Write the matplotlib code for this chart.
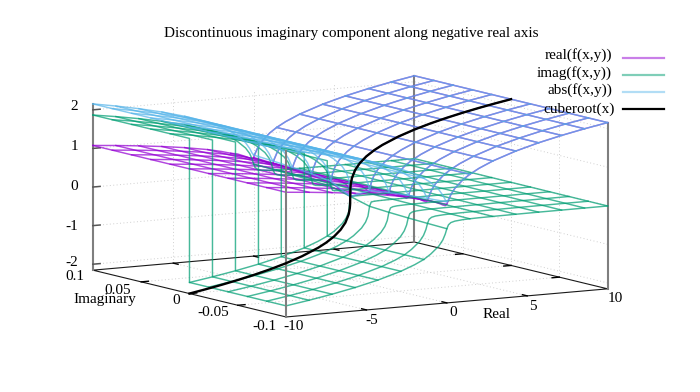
import matplotlib
matplotlib.use('Agg')
import matplotlib.pyplot as plt
from matplotlib.lines import Line2D
from mpl_toolkits.mplot3d import proj3d
import numpy as np

plt.rcParams['font.family'] = ['Liberation Serif', 'DejaVu Serif']

# values
y_rows = [0, 0.02, 0.04, 0.06, 0.08, 0.1]
x_far_neg = [-10, -8.57, -7.14, -5.71, -4.29, -2.86, -2, -1.43]
x_near = [-1, -0.5, -0.25, -0.1, 0, 0.1, 0.25, 0.5, 1]
x_far_pos = [1.43, 2, 2.86, 4.29, 5.71, 7.14, 8.57, 10]
x_iso = [-10, -8.57, -7.14, -5.71, -4.29, -2.86, -1.43, 0, 1.43, 2.86, 4.29, 5.71, 7.14, 8.57, 10]

real_far_neg = [1.077, 1.024, 0.963, 0.894, 0.813, 0.710, 0.630, 0.563]
imag_far_neg = [1.866, 1.773, 1.668, 1.548, 1.407, 1.230, 1.091, 0.976]
abs_far_neg = [2.154, 2.047, 1.926, 1.788, 1.625, 1.420, 1.260, 1.127]
real_far_pos = [1.127, 1.260, 1.420, 1.625, 1.788, 1.926, 2.047, 2.154]
abs_far_pos = [1.127, 1.260, 1.420, 1.625, 1.788, 1.926, 2.047, 2.154]

real_near = [[0.500, 0.397, 0.315, 0.232, 0.000, 0.464, 0.630, 0.794, 1.000],
             [0.506, 0.406, 0.330, 0.260, 0.235, 0.466, 0.630, 0.794, 1.000],
             [0.512, 0.415, 0.345, 0.288, 0.296, 0.472, 0.632, 0.794, 1.000],
             [0.517, 0.425, 0.360, 0.316, 0.339, 0.481, 0.634, 0.795, 1.000],
             [0.524, 0.434, 0.375, 0.343, 0.373, 0.491, 0.637, 0.796, 1.000],
             [0.529, 0.444, 0.391, 0.368, 0.402, 0.503, 0.641, 0.797, 1.000]]
imag_near = [[0.866, 0.688, 0.546, 0.402, 0.000, 0.000, 0.000, 0.000, 0.000],
             [0.863, 0.682, 0.538, 0.388, 0.136, 0.031, 0.017, 0.011, 0.007],
             [0.860, 0.677, 0.530, 0.379, 0.171, 0.060, 0.034, 0.021, 0.013],
             [0.856, 0.673, 0.524, 0.373, 0.196, 0.088, 0.050, 0.032, 0.020],
             [0.853, 0.668, 0.518, 0.369, 0.215, 0.112, 0.066, 0.042, 0.027],
             [0.851, 0.664, 0.514, 0.368, 0.232, 0.135, 0.082, 0.053, 0.033]]
abs_near = [[1.000, 0.794, 0.630, 0.464, 0.000, 0.464, 0.630, 0.794, 1.000],
            [1.000, 0.794, 0.631, 0.467, 0.271, 0.467, 0.631, 0.794, 1.000],
            [1.000, 0.795, 0.633, 0.476, 0.342, 0.476, 0.633, 0.795, 1.000],
            [1.001, 0.796, 0.636, 0.489, 0.391, 0.489, 0.636, 0.796, 1.001],
            [1.002, 0.797, 0.640, 0.504, 0.431, 0.504, 0.640, 0.797, 1.002],
            [1.002, 0.799, 0.646, 0.521, 0.464, 0.521, 0.646, 0.799, 1.002]]
imag_far_pos = [[0.000, 0.000, 0.000, 0.000, 0.000, 0.000, 0.000, 0.000],
                [0.005, 0.004, 0.003, 0.003, 0.002, 0.002, 0.002, 0.001],
                [0.010, 0.008, 0.007, 0.005, 0.004, 0.003, 0.003, 0.003],
                [0.015, 0.012, 0.010, 0.008, 0.006, 0.005, 0.005, 0.004],
                [0.021, 0.016, 0.013, 0.010, 0.008, 0.007, 0.006, 0.006],
                [0.026, 0.020, 0.017, 0.013, 0.010, 0.009, 0.008, 0.007]]

cube_x = [-10, -9, -8, -7, -6, -5, -4, -3, -2, -1.5, -1, -0.6, -0.3, -0.1, -0.03, -0.01, 0,
          0.01, 0.03, 0.1, 0.3, 0.6, 1, 1.5, 2, 3, 4, 5, 6, 7, 8, 9, 10]
cube_z = [-2.154, -2.080, -2.000, -1.913, -1.817, -1.710, -1.587, -1.442, -1.260, -1.145, -1.000,
          -0.843, -0.669, -0.464, -0.311, -0.215, 0,
          0.215, 0.311, 0.464, 0.669, 0.843, 1.000, 1.145, 1.260, 1.442, 1.587, 1.710, 1.817,
          1.913, 2.000, 2.080, 2.154]

x_ticks = [-5, 0, 5]
y_ticks = [-0.05, 0, 0.05]
z_ticks = [-2, -1, 0, 1, 2]
xmin, xmax = -10, 10
ymin, ymax = -0.1, 0.1
zmin, zmax = -2.154, 2.154


def px(x, y):
    return x / 700, 1 - y / 392


def table(far_neg, near, far_pos):
    rows = []
    for i in range(len(y_rows)):
        pos = far_pos[i] if np.ndim(far_pos) == 2 else far_pos
        rows.append(list(far_neg) + list(near[i]) + list(pos))
    return np.array(rows)


xs = np.array(x_far_neg + x_near + x_far_pos)
ys = np.array([-v for v in y_rows[::-1]] + y_rows)
t = table(real_far_neg, real_near, real_far_pos)
real_z = np.vstack((t[::-1], t))
t = table(imag_far_neg, imag_near, imag_far_pos)
imag_z = np.vstack((-t[::-1], t))
t = table(abs_far_neg, abs_near, abs_far_pos)
abs_z = np.vstack((t[::-1], t))

fig = plt.figure(figsize=(7, 3.92), dpi=100)
ax = fig.add_axes([0, 0, 1, 1], projection='3d', proj_type='ortho', computed_zorder=False)
ax.set_xlim(xmin, xmax)
ax.set_ylim(ymin, ymax)
ax.set_zlim(zmin, zmax)
ax.set_box_aspect((1, 1, 0.448))
ax.view_init(elev=8.37, azim=239)
ax.set_axis_off()

# put the box on the same pixels as the reference
cx = [xmin, xmin, xmax, xmax]
cy = [ymax, ymin, ymin, ymax]
cz = [zmin, zmin, zmin, zmin]
tx = np.array([93, 287, 607, 414])
ty = 392 - np.array([270, 317, 289, 242])
u, v, _ = proj3d.proj_transform(np.array(cx, float), np.array(cy, float), np.array(cz, float), ax.get_proj())
scale = (np.polyfit(u, tx, 1)[0] + np.polyfit(v, ty, 1)[0]) / 2
bx = np.mean(tx - scale * u)
by = np.mean(ty - scale * v)
x0, x1 = ax.viewLim.intervalx
y0, y1 = ax.viewLim.intervaly
ax.set_position([(bx + scale * x0) / 700, (by + scale * y0) / 392,
                 scale * (x1 - x0) / 700, scale * (y1 - y0) / 392])

grid_c = '#cfcfcf'
dot = (0, (1, 2.5))
for x in x_ticks:
    ax.plot([x, x], [ymin, ymax], [zmin, zmin], color=grid_c, lw=0.7, ls=dot, zorder=1)
    ax.plot([x, x], [ymax, ymax], [zmin, zmax], color=grid_c, lw=0.7, ls=dot, zorder=1)
for y in y_ticks:
    ax.plot([xmin, xmax], [y, y], [zmin, zmin], color=grid_c, lw=0.7, ls=dot, zorder=1)
    ax.plot([xmax, xmax], [y, y], [zmin, zmax], color=grid_c, lw=0.7, ls=dot, zorder=1)
for z in z_ticks:
    ax.plot([xmin, xmax], [ymax, ymax], [z, z], color=grid_c, lw=0.7, ls=dot, zorder=1)
    ax.plot([xmax, xmax], [ymin, ymax], [z, z], color=grid_c, lw=0.7, ls=dot, zorder=1)

# base and axes
ax.plot(cx + cx[:1], cy + cy[:1], cz + cz[:1], color='#1a1a1a', lw=0.8, zorder=2)
for x, y, zo in [(xmin, ymax, 2), (xmax, ymax, 2), (xmax, ymin, 2), (xmin, ymin, 7)]:
    ax.plot([x, x], [y, y], [zmin, zmax], color='#7f7f7f', lw=1.5, zorder=zo)
for x in x_ticks:
    ax.plot([x, x], [ymin, ymin + 0.005], [zmin, zmin], color='black', lw=1.0, zorder=3)
    ax.plot([x, x], [ymax, ymax - 0.005], [zmin, zmin], color='black', lw=1.0, zorder=3)
for y in y_ticks:
    ax.plot([xmin, xmin + 0.45], [y, y], [zmin, zmin], color='black', lw=1.0, zorder=3)
    ax.plot([xmax, xmax - 0.45], [y, y], [zmin, zmin], color='black', lw=1.0, zorder=3)
for z in z_ticks:
    ax.plot([xmin, xmin + 0.45], [ymax, ymax], [z, z], color='#555555', lw=1.1, zorder=3)

# surfaces as iso lines
series = [(real_z, '#9400d3', 4), (imag_z, '#009e73', 5), (abs_z, '#56b4e9', 6)]
iso_cols = [int(np.argmin(np.abs(xs - x))) for x in x_iso]
for z, col, zo in series:
    for i in range(len(ys)):
        if i == len(y_rows):
            continue
        ax.plot(xs, np.full(len(xs), ys[i]), z[i], color=col, lw=1.05, alpha=0.72, zorder=zo)
    for j in iso_cols:
        ax.plot(np.full(len(ys), xs[j]), ys, z[:, j], color=col, lw=1.05, alpha=0.72, zorder=zo)

ax.plot(cube_x, np.zeros(len(cube_x)), cube_z, color='black', lw=1.7, zorder=8)

# text
fs = 11
fig.text(*px(351, 34), 'Discontinuous imaginary component along negative real axis',
         ha='center', va='center', fontsize=fs, color='black')
for lab, x, y in [('2', 78, 106), ('1', 78, 146), ('0', 78, 186), ('-1', 78, 226), ('-2', 78, 263)]:
    fig.text(*px(x, y), lab, ha='right', va='center', fontsize=fs)
for lab, x, y in [('0.1', 75, 277), ('0.05', 118, 290), ('0', 176, 301), ('-0.05', 213, 313), ('-0.1', 264, 326),
                  ('-10', 294, 326), ('-5', 372, 320), ('0', 453, 312), ('5', 533, 306), ('10', 615, 298)]:
    fig.text(*px(x, y), lab, ha='center', va='center', fontsize=fs)
fig.text(*px(105, 300), 'Imaginary', ha='center', va='center', fontsize=fs)
fig.text(*px(497, 314), 'Real', ha='center', va='center', fontsize=fs)

legend = [('real(f(x,y))', 612, 55, 58, '#9400d3', 0.5, 1.6),
          ('imag(f(x,y))', 612, 73, 75, '#009e73', 0.5, 1.6),
          ('abs(f(x,y))', 612, 90, 92, '#56b4e9', 0.45, 1.6),
          ('cuberoot(x)', 615, 109, 109, 'black', 1, 1.6)]
for lab, x, y, yl, col, al, lw in legend:
    fig.text(*px(x, y), lab, ha='right', va='center', fontsize=fs)
    fig.add_artist(Line2D([623 / 700, 664 / 700], [1 - yl / 392, 1 - yl / 392],
                          color=col, alpha=al, lw=lw))

fig.savefig('out.png', dpi=100)
